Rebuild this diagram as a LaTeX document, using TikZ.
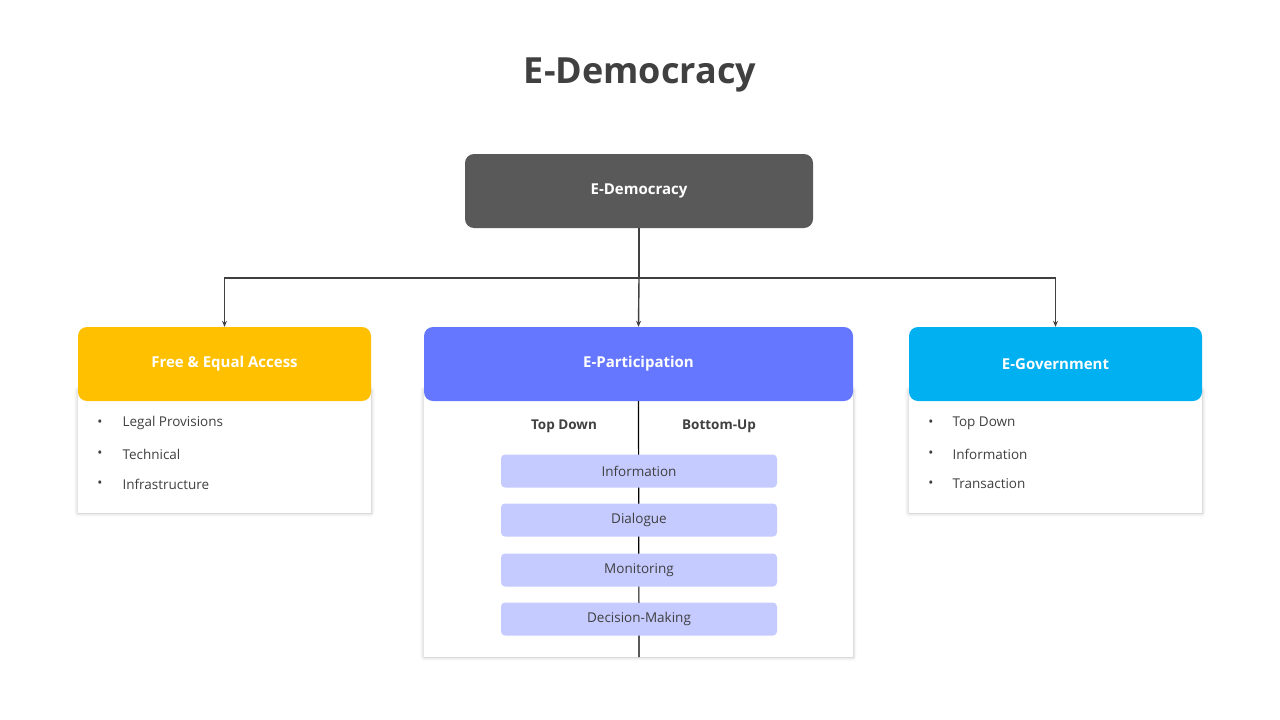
\documentclass[tikz,border=0pt]{standalone}
\usepackage{fontspec}
\setmainfont{Open Sans}
\usetikzlibrary{arrows.meta,shadows.blur}
\definecolor{dk}{HTML}{404040}
\definecolor{topc}{HTML}{595959}
\definecolor{yel}{HTML}{FFC000}
\definecolor{blu}{HTML}{6677FF}
\definecolor{cya}{HTML}{00B0F0}
\definecolor{bar}{HTML}{C5CAFF}
\tikzset{
 hdr/.style={rounded corners=9pt,draw=none,text=white,font=\bfseries\fontsize{15}{18}\selectfont},
 bodyc/.style={fill=white,draw=none,blur shadow={shadow blur steps=6,shadow xshift=0pt,shadow yshift=0pt,shadow blur radius=4pt,shadow opacity=25}},
 itm/.style={anchor=west,text=dk,font=\fontsize{13.5}{16}\selectfont},
 bul/.style={text=dk,font=\fontsize{13.5}{16}\selectfont},
 barn/.style={fill=bar,rounded corners=4pt,minimum width=276pt,minimum height=33pt,text=dk,font=\fontsize{13.5}{16}\selectfont,inner sep=0pt},
 conn/.style={draw=dk,line width=1.4pt,-{Stealth[length=6pt,width=5pt]}}
}
\begin{document}
\begin{tikzpicture}[x=1pt,y=-1pt]
\useasboundingbox (0,0) rectangle (1280,720);
\node[text=dk,font=\bfseries\fontsize{36}{40}\selectfont] (title) at (640,75) {E-Democracy};
% bodies
\fill[bodyc] (78,390) rectangle (371,513);
\fill[bodyc] (424,390) rectangle (853,657);
\fill[bodyc] (909,390) rectangle (1202,513);
\node[hdr,fill=topc,minimum width=348pt,minimum height=74pt] (top) at (639,191) {E-Democracy};
\node[hdr,fill=yel,minimum width=293pt,minimum height=74pt] (l) at (224.5,364) {Free \& Equal Access};
\node[hdr,fill=blu,minimum width=429pt,minimum height=74pt] (m) at (638.5,364) {E-Participation};
\node[hdr,fill=cya,minimum width=293pt,minimum height=74pt] (r) at (1055.5,364) {E-Government};
\coordinate (j) at (639,278);
\draw[dk,line width=1.4pt] (top.south) -- (j);
\draw[conn] (j) -| (l.north);
\draw[conn] (j) -| (r.north);
\draw[conn] (j) -- (m.north);
% left items
\foreach \t/\y in {Legal Provisions/423,Technical/454,Infrastructure/484}{
 \node[bul] at (100,\y) {•}; \node[itm] at (119,\y) {\t};}
\foreach \t/\y in {Top Down/423,Information/454,Transaction/484}{
 \node[bul] at (931,\y) {•}; \node[itm] at (949,\y) {\t};}
% middle
\coordinate (vb) at (639,657);
\draw[black,line width=1.2pt] (m.south) -- (vb);
\node[text=dk,font=\bfseries\fontsize{13.5}{16}\selectfont] (td) at (564,426) {Top Down};
\node[text=dk,font=\bfseries\fontsize{13.5}{16}\selectfont] (bu) at (719,426) {Bottom-Up};
\node[barn] (b1) at (639,471) {Information};
\node[barn] (b2) at (639,520) {Dialogue};
\node[barn] (b3) at (639,570) {Monitoring};
\node[barn] (b4) at (639,619) {Decision-Making};
\end{tikzpicture}
\end{document}
